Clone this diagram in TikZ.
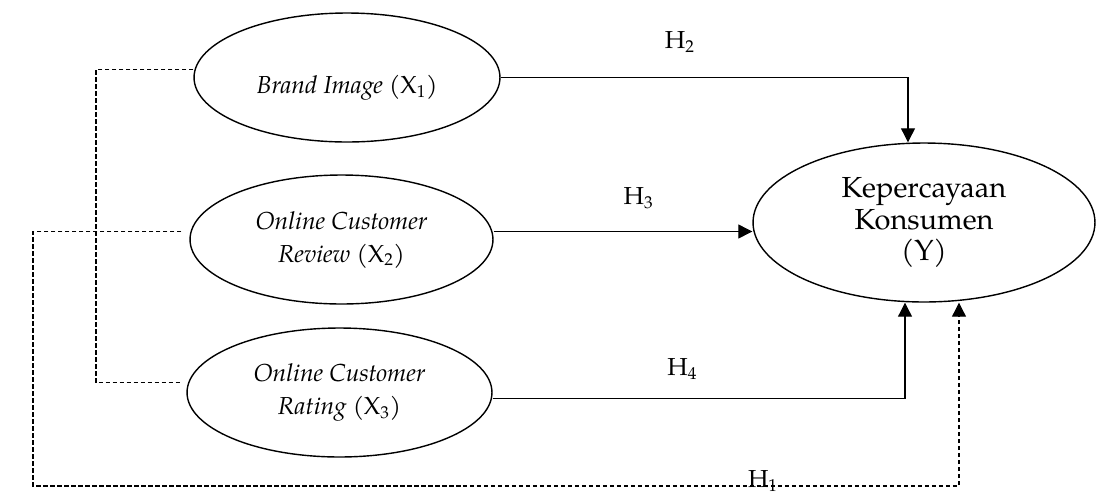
\documentclass[tikz,border=0pt]{standalone}
\usepackage{fontspec}
\setmainfont{TeX Gyre Pagella}
\usepackage{tikz}
\usetikzlibrary{arrows.meta}
\usetikzlibrary{calc}
\usetikzlibrary{shapes.geometric}
\tikzset{var/.style = {draw, ellipse, line width=0.8pt, inner sep=0pt, align=center, text centered, minimum height=2.58cm}}
\tikzset{arr/.style = {line width=0.6pt, -{Triangle[length=0.28cm, width=0.28cm]}}}
\tikzset{dashline/.style = {line width=0.6pt, dash pattern=on 0.09cm off 0.05cm}}

\begin{document}
\begin{tikzpicture}[x=0.02cm, y=-0.02cm,
  font=\fontsize{14}{18.8}\selectfont
]
\useasboundingbox (0,0) rectangle (1096,495);

\node[var, minimum width=6.12cm] (x1) at (347,77.5) {\raisebox{-0.2cm}[\height][\depth]{\textit{Brand Image} (X\textsubscript{1})}};
\node[var, minimum width=6.06cm] (x2) at (341.5,239.5) {\textit{Online Customer} \\ \textit{Review} (X\textsubscript{2})};
\node[var, minimum width=6.1cm] (x3) at (339.5,392.5) {\textit{Online Customer} \\ \textit{Rating} (X\textsubscript{3})};
\node[var, minimum width=6.84cm, minimum height=3.18cm, font=\fontsize{16.5}{18}\selectfont] (y) at (924,222.5) {Kepercayaan \\ Konsumen \\ (Y)};

% end points on the ellipses
\coordinate (a1) at ($(x1.west)+(0,-8)$);
\coordinate (a2) at ($(x2.west)+(-8,-8)$);
\coordinate (a3) at ($(x3.west)+(-4,-10)$);
\coordinate (bk) at (96,232);
\coordinate (lf) at (33,486);

\draw[arr]  (x1.east) -| ([xshift=-0.32cm]y.north) node[pos=.22, above=.38cm]{H\textsubscript{2}};
\draw[arr]  ($(x2.east)+(0,-8)$) -- (y.west |- {$(x2.east)+(0,-8)$}) node[pos=.56, above=.32cm]{H\textsubscript{3}};
\draw[arr]  ($(x3.east)+(0,6)$) -| ([xshift=-0.38cm]y.south) node[pos=.23, above=.26cm]{H\textsubscript{4}};
\draw[dashline]  (a1) -| (bk) |- (a3);
\draw[dashline, arr]  (a2) -| (lf) -| ([xshift=0.7cm]y.south);
\node (h1) at (763,481) {H\textsubscript{1}};

\end{tikzpicture}
\end{document}
